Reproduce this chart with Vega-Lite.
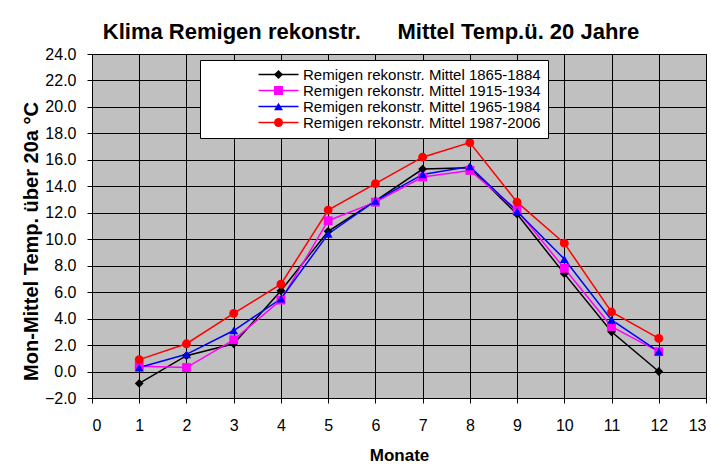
{
  "$schema": "https://vega.github.io/schema/vega-lite/v6.json",
  "width": 614,
  "height": 344,
  "autosize": "none",
  "padding": {"left": 92, "top": 54, "right": 5, "bottom": 68},
  "background": "white",
  "title": {
    "text": "Klima Remigen rekonstr.\u00a0\u00a0\u00a0\u00a0\u00a0 Mittel Temp.ü. 20 Jahre",
    "font": "Liberation Sans",
    "fontSize": 22,
    "fontWeight": "bold",
    "color": "black",
    "anchor": "middle",
    "dx": -28,
    "offset": 2
  },
  "data": {
    "values": [
      {"Monat": 1, "Zeitraum": "1865-1884", "Reihe": "Remigen rekonstr. Mittel 1865-1884", "Temp": -0.9},
      {"Monat": 2, "Zeitraum": "1865-1884", "Reihe": "Remigen rekonstr. Mittel 1865-1884", "Temp": 1.2},
      {"Monat": 3, "Zeitraum": "1865-1884", "Reihe": "Remigen rekonstr. Mittel 1865-1884", "Temp": 2.1},
      {"Monat": 4, "Zeitraum": "1865-1884", "Reihe": "Remigen rekonstr. Mittel 1865-1884", "Temp": 6.1},
      {"Monat": 5, "Zeitraum": "1865-1884", "Reihe": "Remigen rekonstr. Mittel 1865-1884", "Temp": 10.6},
      {"Monat": 6, "Zeitraum": "1865-1884", "Reihe": "Remigen rekonstr. Mittel 1865-1884", "Temp": 12.9},
      {"Monat": 7, "Zeitraum": "1865-1884", "Reihe": "Remigen rekonstr. Mittel 1865-1884", "Temp": 15.3},
      {"Monat": 8, "Zeitraum": "1865-1884", "Reihe": "Remigen rekonstr. Mittel 1865-1884", "Temp": 15.4},
      {"Monat": 9, "Zeitraum": "1865-1884", "Reihe": "Remigen rekonstr. Mittel 1865-1884", "Temp": 11.9},
      {"Monat": 10, "Zeitraum": "1865-1884", "Reihe": "Remigen rekonstr. Mittel 1865-1884", "Temp": 7.4},
      {"Monat": 11, "Zeitraum": "1865-1884", "Reihe": "Remigen rekonstr. Mittel 1865-1884", "Temp": 3.0},
      {"Monat": 12, "Zeitraum": "1865-1884", "Reihe": "Remigen rekonstr. Mittel 1865-1884", "Temp": 0.0},
      {"Monat": 1, "Zeitraum": "1915-1934", "Reihe": "Remigen rekonstr. Mittel 1915-1934", "Temp": 0.4},
      {"Monat": 2, "Zeitraum": "1915-1934", "Reihe": "Remigen rekonstr. Mittel 1915-1934", "Temp": 0.3},
      {"Monat": 3, "Zeitraum": "1915-1934", "Reihe": "Remigen rekonstr. Mittel 1915-1934", "Temp": 2.4},
      {"Monat": 4, "Zeitraum": "1915-1934", "Reihe": "Remigen rekonstr. Mittel 1915-1934", "Temp": 5.4},
      {"Monat": 5, "Zeitraum": "1915-1934", "Reihe": "Remigen rekonstr. Mittel 1915-1934", "Temp": 11.4},
      {"Monat": 6, "Zeitraum": "1915-1934", "Reihe": "Remigen rekonstr. Mittel 1915-1934", "Temp": 12.8},
      {"Monat": 7, "Zeitraum": "1915-1934", "Reihe": "Remigen rekonstr. Mittel 1915-1934", "Temp": 14.7},
      {"Monat": 8, "Zeitraum": "1915-1934", "Reihe": "Remigen rekonstr. Mittel 1915-1934", "Temp": 15.2},
      {"Monat": 9, "Zeitraum": "1915-1934", "Reihe": "Remigen rekonstr. Mittel 1915-1934", "Temp": 12.2},
      {"Monat": 10, "Zeitraum": "1915-1934", "Reihe": "Remigen rekonstr. Mittel 1915-1934", "Temp": 7.8},
      {"Monat": 11, "Zeitraum": "1915-1934", "Reihe": "Remigen rekonstr. Mittel 1915-1934", "Temp": 3.4},
      {"Monat": 12, "Zeitraum": "1915-1934", "Reihe": "Remigen rekonstr. Mittel 1915-1934", "Temp": 1.5},
      {"Monat": 1, "Zeitraum": "1965-1984", "Reihe": "Remigen rekonstr. Mittel 1965-1984", "Temp": 0.3},
      {"Monat": 2, "Zeitraum": "1965-1984", "Reihe": "Remigen rekonstr. Mittel 1965-1984", "Temp": 1.3},
      {"Monat": 3, "Zeitraum": "1965-1984", "Reihe": "Remigen rekonstr. Mittel 1965-1984", "Temp": 3.1},
      {"Monat": 4, "Zeitraum": "1965-1984", "Reihe": "Remigen rekonstr. Mittel 1965-1984", "Temp": 5.5},
      {"Monat": 5, "Zeitraum": "1965-1984", "Reihe": "Remigen rekonstr. Mittel 1965-1984", "Temp": 10.4},
      {"Monat": 6, "Zeitraum": "1965-1984", "Reihe": "Remigen rekonstr. Mittel 1965-1984", "Temp": 12.9},
      {"Monat": 7, "Zeitraum": "1965-1984", "Reihe": "Remigen rekonstr. Mittel 1965-1984", "Temp": 14.9},
      {"Monat": 8, "Zeitraum": "1965-1984", "Reihe": "Remigen rekonstr. Mittel 1965-1984", "Temp": 15.5},
      {"Monat": 9, "Zeitraum": "1965-1984", "Reihe": "Remigen rekonstr. Mittel 1965-1984", "Temp": 12.1},
      {"Monat": 10, "Zeitraum": "1965-1984", "Reihe": "Remigen rekonstr. Mittel 1965-1984", "Temp": 8.5},
      {"Monat": 11, "Zeitraum": "1965-1984", "Reihe": "Remigen rekonstr. Mittel 1965-1984", "Temp": 3.9},
      {"Monat": 12, "Zeitraum": "1965-1984", "Reihe": "Remigen rekonstr. Mittel 1965-1984", "Temp": 1.5},
      {"Monat": 1, "Zeitraum": "1987-2006", "Reihe": "Remigen rekonstr. Mittel 1987-2006", "Temp": 0.9},
      {"Monat": 2, "Zeitraum": "1987-2006", "Reihe": "Remigen rekonstr. Mittel 1987-2006", "Temp": 2.1},
      {"Monat": 3, "Zeitraum": "1987-2006", "Reihe": "Remigen rekonstr. Mittel 1987-2006", "Temp": 4.4},
      {"Monat": 4, "Zeitraum": "1987-2006", "Reihe": "Remigen rekonstr. Mittel 1987-2006", "Temp": 6.6},
      {"Monat": 5, "Zeitraum": "1987-2006", "Reihe": "Remigen rekonstr. Mittel 1987-2006", "Temp": 12.2},
      {"Monat": 6, "Zeitraum": "1987-2006", "Reihe": "Remigen rekonstr. Mittel 1987-2006", "Temp": 14.2},
      {"Monat": 7, "Zeitraum": "1987-2006", "Reihe": "Remigen rekonstr. Mittel 1987-2006", "Temp": 16.2},
      {"Monat": 8, "Zeitraum": "1987-2006", "Reihe": "Remigen rekonstr. Mittel 1987-2006", "Temp": 17.3},
      {"Monat": 9, "Zeitraum": "1987-2006", "Reihe": "Remigen rekonstr. Mittel 1987-2006", "Temp": 12.8},
      {"Monat": 10, "Zeitraum": "1987-2006", "Reihe": "Remigen rekonstr. Mittel 1987-2006", "Temp": 9.7},
      {"Monat": 11, "Zeitraum": "1987-2006", "Reihe": "Remigen rekonstr. Mittel 1987-2006", "Temp": 4.5},
      {"Monat": 12, "Zeitraum": "1987-2006", "Reihe": "Remigen rekonstr. Mittel 1987-2006", "Temp": 2.5}
    ]
  },
  "encoding": {
    "x": {
      "field": "Monat",
      "type": "quantitative",
      "scale": {"domain": [0, 13], "nice": false, "zero": false},
      "axis": {
        "title": "Monate",
        "values": [0, 1, 2, 3, 4, 5, 6, 7, 8, 9, 10, 11, 12, 13],
        "format": "d",
        "labelPadding": 14,
        "titlePadding": 14
      }
    },
    "y": {
      "field": "Temp",
      "type": "quantitative",
      "scale": {"domain": [-2, 24], "nice": false, "zero": false},
      "axis": {
        "title": "Mon-Mittel Temp. über 20a °C",
        "values": [-2, 0, 2, 4, 6, 8, 10, 12, 14, 16, 18, 20, 22, 24],
        "format": ".1f",
        "labelPadding": 11,
        "titleFontSize": 20,
        "titleX": -61,
        "titleY": 187,
        "titleBaseline": "middle"
      }
    }
  },
  "layer": [
    {
      "mark": {"type": "line", "strokeWidth": 1.5},
      "encoding": {
        "color": {
          "field": "Reihe",
          "type": "nominal",
          "scale": {"range": ["#000000", "#FF00FF", "#0000FF", "#FF0000"]},
          "legend": {
            "title": null,
            "orient": "none",
            "legendX": 108,
            "legendY": 6,
            "symbolType": "M-5,0H5",
            "symbolSize": 64,
            "symbolStrokeWidth": 1.5,
            "symbolOffset": 64,
            "labelOffset": 17,
            "labelFont": "Liberation Sans",
            "labelFontSize": 15,
            "labelColor": "black",
            "labelLimit": 400,
            "rowPadding": -1,
            "padding": 7,
            "fillColor": "white",
            "strokeColor": "black"
          }
        }
      }
    },
    {
      "mark": {"type": "point", "filled": true, "size": 78, "opacity": 1},
      "encoding": {
        "shape": {
          "field": "Zeitraum",
          "type": "nominal",
          "scale": {"range": ["diamond", "square", "triangle-up", "circle"]},
          "legend": {
            "title": null,
            "orient": "none",
            "legendX": 108,
            "legendY": 6,
            "symbolSize": 80,
            "symbolStrokeWidth": 0,
            "symbolOffset": 64,
            "labelOffset": 268,
            "labelFont": "Liberation Sans",
            "labelFontSize": 15,
            "labelExpr": "'\u00a0'",
            "rowPadding": -1,
            "padding": 7
          }
        },
        "fill": {
          "field": "Zeitraum",
          "type": "nominal",
          "scale": {"range": ["#000000", "#FF00FF", "#0000FF", "#FF0000"]},
          "legend": {
            "title": null,
            "orient": "none",
            "legendX": 108,
            "legendY": 6,
            "symbolSize": 80,
            "symbolStrokeWidth": 0,
            "symbolOffset": 64,
            "labelOffset": 268,
            "labelFont": "Liberation Sans",
            "labelFontSize": 15,
            "labelExpr": "'\u00a0'",
            "rowPadding": -1,
            "padding": 7
          }
        }
      }
    }
  ],
  "config": {
    "font": "Liberation Sans",
    "view": {"fill": "#C0C0C0", "stroke": "black", "strokeWidth": 1},
    "axis": {
      "gridColor": "black",
      "gridOpacity": 1,
      "gridWidth": 1,
      "domainColor": "black",
      "domainWidth": 1,
      "tickColor": "black",
      "tickSize": 5,
      "labelFont": "Liberation Sans",
      "labelFontSize": 16,
      "labelColor": "black",
      "titleFont": "Liberation Sans",
      "titleFontSize": 17,
      "titleFontWeight": "bold",
      "titleColor": "black"
    }
  }
}
